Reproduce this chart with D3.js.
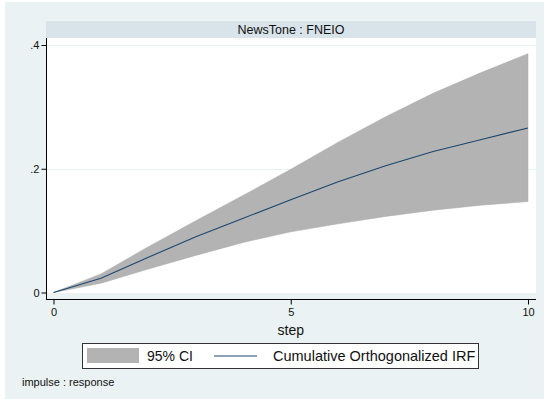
<!DOCTYPE html>
<html>
<head>
<meta charset="utf-8">
<script src="https://cdn.jsdelivr.net/npm/d3@7/dist/d3.min.js"></script>
<style>
html,body{margin:0;padding:0;background:#fff;}
svg{display:block;font-family:"Liberation Sans",Arial,sans-serif;}
</style>
</head>
<body>
<svg id="chart" width="547" height="402"></svg>
<script>
const steps = [0,1,2,3,4,5,6,7,8,9,10];
const irf   = [0,0.023,0.057,0.090,0.120,0.150,0.179,0.205,0.228,0.247,0.266];
const upper = [0,0.030,0.074,0.116,0.157,0.199,0.243,0.284,0.322,0.355,0.386];
const lower = [0,0.015,0.038,0.060,0.081,0.098,0.111,0.123,0.133,0.141,0.147];
const xTicks = [0,5,10];
const yTicks = [0,0.2,0.4];
const yTickLabels = ["0",".2",".4"];
const panelTitle = "NewsTone : FNEIO";
const xTitle = "step";
const legendLabels = ["95% CI","Cumulative Orthogonalized IRF"];
const note = "impulse : response";

const svg = d3.select("#chart");
const bg = "#eaf2f3";
const navy = "#1a476f";
const band = "#b3b3b3";

svg.append("rect").attr("x",5).attr("y",2).attr("width",539).attr("height",397).attr("fill",bg);

const L=46, R=536, T=38, B=293;
svg.append("rect").attr("x",L).attr("y",21).attr("width",R-L).attr("height",T-21).attr("fill","#d8e4ea");
svg.append("text").attr("x",(L+R)/2).attr("y",34).attr("text-anchor","middle")
  .attr("font-size",12.5).attr("fill","#111").text(panelTitle);
svg.append("rect").attr("x",L).attr("y",T).attr("width",R-L).attr("height",B-T).attr("fill","#fff");

const x = d3.scaleLinear().domain([0,10]).range([53.5,528]);
const y = d3.scaleLinear().domain([0,0.4]).range([292.5,45]);

// gridlines
svg.append("g").selectAll("line").data(yTicks).join("line")
  .attr("x1",L).attr("x2",R).attr("y1",d=>Math.round(y(d))+0.5).attr("y2",d=>Math.round(y(d))+0.5)
  .attr("stroke",bg).attr("stroke-width",1.2);

const data = steps.map((s,i)=>({s, m:irf[i], u:upper[i], l:lower[i]}));
svg.append("path").datum(data)
  .attr("d", d3.area().x(d=>x(d.s)).y0(d=>y(d.l)).y1(d=>y(d.u)))
  .attr("fill",band).attr("stroke","#a8a8a8").attr("stroke-width",0.5);
svg.append("path").datum(data)
  .attr("d", d3.line().x(d=>x(d.s)).y(d=>y(d.m)))
  .attr("fill","none").attr("stroke",navy).attr("stroke-width",1.1);

// axes
const xAxisY = 299.5;
const yAxisX = 46.5;
const ax = svg.append("g").attr("transform",`translate(0,${xAxisY})`)
  .call(d3.axisBottom(x).tickValues(xTicks).tickFormat(d3.format("d")).tickSize(5).tickPadding(4).tickSizeOuter(0));
ax.select(".domain").attr("d",`M${L},0H${R}`).attr("stroke","#000");
ax.selectAll(".tick line").attr("stroke","#000");
ax.selectAll(".tick text").attr("font-size",11).attr("fill","#111").attr("font-family","Liberation Sans, Arial, sans-serif");

const ay = svg.append("g").attr("transform",`translate(${yAxisX},0)`)
  .call(d3.axisLeft(y).tickValues(yTicks).tickFormat((d,i)=>yTickLabels[i]).tickSize(5).tickPadding(2).tickSizeOuter(0));
ay.select(".domain").attr("d",`M0,${T}V${xAxisY}`).attr("stroke","#000");
ay.selectAll(".tick line").attr("stroke","#000");
ay.selectAll(".tick text").attr("font-size",11).attr("fill","#111").attr("font-family","Liberation Sans, Arial, sans-serif");

svg.append("text").attr("x",x(5)).attr("y",335).attr("text-anchor","middle")
  .attr("font-size",14).attr("fill","#111").text(xTitle);

// legend
svg.append("rect").attr("x",82.5).attr("y",343.5).attr("width",396).attr("height",25)
  .attr("fill","#fff").attr("stroke","#333").attr("stroke-width",1);
svg.append("rect").attr("x",87).attr("y",348).attr("width",52).attr("height",15).attr("fill",band);
svg.append("text").attr("x",147).attr("y",361).attr("font-size",14).attr("fill","#111").text(legendLabels[0]);
svg.append("line").attr("x1",214).attr("x2",257).attr("y1",356).attr("y2",356)
  .attr("stroke",navy).attr("stroke-width",1.2);
svg.append("text").attr("x",273).attr("y",361).attr("font-size",14.5).attr("fill","#111").text(legendLabels[1]);

svg.append("text").attr("x",22).attr("y",386).attr("font-size",11).attr("fill","#111").text(note);
</script>
</body>
</html>
